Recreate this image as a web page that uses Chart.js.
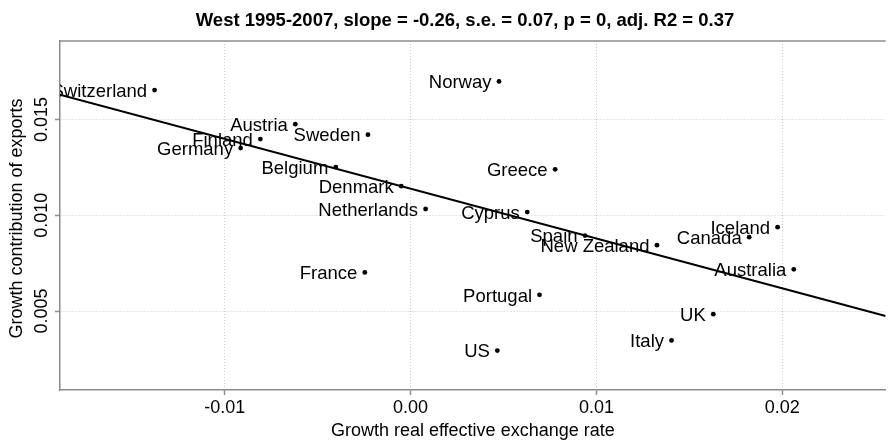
<!DOCTYPE html>
<html>
<head>
<meta charset="utf-8">
<script src="https://cdn.jsdelivr.net/npm/chart.js@4.4.1/dist/chart.umd.min.js"></script>
<style>
  html, body { margin: 0; padding: 0; background: #fff; }
  #wrap { width: 888px; height: 442px; }
</style>
</head>
<body>
<div id="wrap"><canvas id="chart" width="888" height="442"></canvas></div>
<script>
// Export growth contribution vs. real effective exchange rate growth, 1995-2007
const countries = [
  'Switzerland', 'Austria', 'Finland', 'Germany', 'Sweden', 'Belgium', 'Denmark',
  'Norway', 'Greece', 'Netherlands', 'France', 'Cyprus', 'Spain', 'New Zealand',
  'Iceland', 'Canada', 'Australia', 'Portugal', 'UK', 'Italy', 'US'
];
const reerGrowth = [
  -0.01377, -0.00620, -0.00808, -0.00914, -0.00229, -0.00402, -0.00050,
  0.00476, 0.00778, 0.00081, -0.00246, 0.00628, 0.00939, 0.01326,
  0.01975, 0.01822, 0.02062, 0.00694, 0.01629, 0.01404, 0.00467
];
const exportContribution = [
  0.01654, 0.01476, 0.01398, 0.01351, 0.01421, 0.01252, 0.01152,
  0.01699, 0.01240, 0.01033, 0.00702, 0.01017, 0.00894, 0.00844,
  0.00938, 0.00886, 0.00718, 0.00585, 0.00484, 0.00347, 0.00294
];

// Fitted regression line
const fitSlope = -0.26;
const fitIntercept = 0.01139;

// Axis ranges and tick spacing
const xRange = [-0.01886, 0.02556];
const yRange = [0.00088, 0.0191];
const xTickStep = 0.01;
const yTickStep = 0.005;

const titleText = 'West 1995-2007, slope = -0.26, s.e. = 0.07, p = 0, adj. R2 = 0.37';
const xTitle = 'Growth real effective exchange rate';
const yTitle = 'Growth contribution of exports';

const FONT = '"Liberation Sans", Arial, Helvetica, sans-serif';
const AXIS_GREY = '#8c8c8c';
const GRID_GREY = '#cccccc';

const points = countries.map((c, i) => ({ x: reerGrowth[i], y: exportContribution[i], label: c }));
const fitLine = xRange.map(x => ({ x: x, y: fitIntercept + fitSlope * x }));

// Country names to the left of each point, the box top edge, rotated y ticks, titles
const decorations = {
  id: 'decorations',
  afterDatasetDraw(chart, args) {
    if (args.index !== 0) return;
    const ctx = chart.ctx;
    const area = chart.chartArea;
    const meta = chart.getDatasetMeta(0);
    ctx.save();
    ctx.beginPath();
    ctx.rect(area.left, area.top, area.right - area.left, area.bottom - area.top);
    ctx.clip();
    ctx.font = '18.5px ' + FONT;
    ctx.fillStyle = '#000';
    ctx.textAlign = 'right';
    ctx.textBaseline = 'alphabetic';
    meta.data.forEach((el, i) => {
      ctx.fillText(points[i].label, el.x - 7.5, el.y + 6.7);
    });
    ctx.restore();
  },
  afterDraw(chart) {
    const ctx = chart.ctx;
    const area = chart.chartArea;
    const yScale = chart.scales.y;
    ctx.save();
    // top edge of the plot box
    ctx.strokeStyle = AXIS_GREY;
    ctx.lineWidth = 1.5;
    ctx.beginPath();
    ctx.moveTo(area.left - 0.75, area.top);
    ctx.lineTo(area.right, area.top);
    ctx.stroke();
    // rotated y tick labels
    ctx.fillStyle = '#000';
    ctx.font = '18px ' + FONT;
    ctx.textAlign = 'center';
    ctx.textBaseline = 'alphabetic';
    yScale.ticks.forEach(t => {
      const py = yScale.getPixelForValue(t.value);
      ctx.save();
      ctx.translate(47, py);
      ctx.rotate(-Math.PI / 2);
      ctx.fillText(t.value.toFixed(3), 0, 0);
      ctx.restore();
    });
    // y axis title
    ctx.save();
    ctx.translate(21.5, (area.top + area.bottom) / 2 + 3);
    ctx.rotate(-Math.PI / 2);
    ctx.fillText(yTitle, 0, 0);
    ctx.restore();
    // main title
    ctx.font = 'bold 18.5px ' + FONT;
    ctx.fillText(titleText, 465, 26);
    ctx.restore();
  }
};

new Chart(document.getElementById('chart'), {
  type: 'scatter',
  data: {
    datasets: [
      {
        data: points,
        order: 2,
        pointRadius: 2.4,
        pointHoverRadius: 2.4,
        pointBackgroundColor: '#000',
        pointBorderWidth: 0,
        showLine: false
      },
      {
        type: 'line',
        data: fitLine,
        order: 1,
        borderColor: '#000',
        borderWidth: 2,
        pointRadius: 0,
        fill: false,
        tension: 0
      }
    ]
  },
  options: {
    responsive: false,
    animation: false,
    devicePixelRatio: 1,
    layout: { padding: { left: 55, top: 41, right: 0, bottom: 0.7 } },
    plugins: { legend: { display: false }, tooltip: { enabled: false }, title: { display: false } },
    scales: {
      x: {
        type: 'linear',
        min: xRange[0],
        max: xRange[1],
        ticks: {
          stepSize: xTickStep,
          includeBounds: false,
          padding: 2,
          color: '#000',
          font: { family: FONT, size: 18 },
          callback: v => v.toFixed(2),
          maxRotation: 0
        },
        grid: { color: GRID_GREY, lineWidth: 1, tickColor: AXIS_GREY, tickLength: 5, tickWidth: 1.5 },
        border: { display: true, color: AXIS_GREY, width: 1.5, dash: [1, 2] },
        title: {
          display: true,
          text: xTitle,
          color: '#000',
          font: { family: FONT, size: 18, lineHeight: 1.15 },
          padding: { top: 0, bottom: 0 }
        }
      },
      y: {
        type: 'linear',
        min: yRange[0],
        max: yRange[1],
        ticks: { stepSize: yTickStep, includeBounds: false, display: false },
        grid: { color: GRID_GREY, lineWidth: 1, tickColor: AXIS_GREY, tickLength: 5, tickWidth: 1.5 },
        border: { display: true, color: AXIS_GREY, width: 1.5, dash: [1, 2] },
        title: { display: false }
      }
    }
  },
  plugins: [decorations]
});
</script>
</body>
</html>
